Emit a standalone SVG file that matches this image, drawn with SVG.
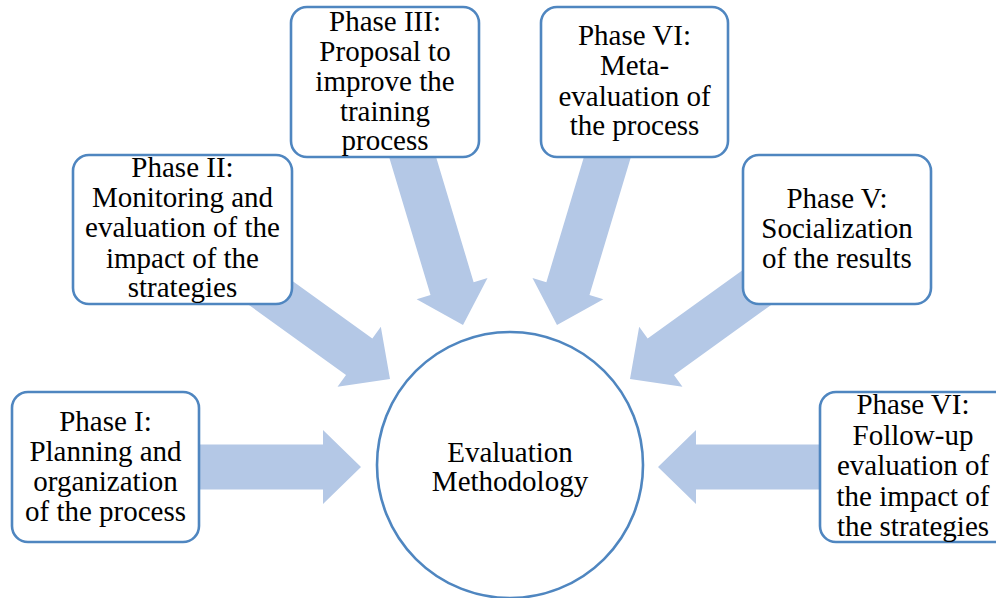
<svg xmlns="http://www.w3.org/2000/svg" width="996" height="598" viewBox="0 0 996 598">
<defs>
<style>
.box{fill:#fff;stroke:#4F86C0;stroke-width:2.6}
.arr{fill:#B4C8E6}
text{font-family:'Liberation Serif','DejaVu Serif',serif;font-size:29px;fill:#000;text-anchor:middle}
</style>
<polygon id="a175" points="-175,-22.5 -38,-22.5 -38,-37 0,0 -38,37 -38,22.5 -175,22.5"/>
<polygon id="a200" points="-200,-22.5 -38,-22.5 -38,-37 0,0 -38,37 -38,22.5 -200,22.5"/>
</defs>
<rect width="996" height="598" fill="#fff"/>
<g id="connectors" class="arr">
<use href="#a175" transform="translate(361,467)"/>
<use href="#a200" transform="translate(658,467) rotate(180)"/>
<use href="#a175" transform="translate(390,379) rotate(35.8)"/>
<use href="#a175" transform="translate(630,379) rotate(144.2)"/>
<use href="#a200" transform="translate(463,325) rotate(73.3)"/>
<use href="#a200" transform="translate(557,325) rotate(106.7)"/>
</g>
<g id="center">
<circle class="box" cx="510" cy="465" r="133"/>
<text x="510" y="462">Evaluation</text>
<text x="510" y="491">Methodology</text>
</g>
<g id="phase1">
<rect class="box" x="12" y="392" width="187" height="150" rx="16"/>
<text x="105.5" y="431">Phase I:</text>
<text x="105.5" y="461">Planning and</text>
<text x="105.5" y="491">organization</text>
<text x="105.5" y="521">of the process</text>
</g>
<g id="phase2">
<rect class="box" x="73" y="155" width="219" height="149" rx="16"/>
<text x="182.5" y="177">Phase II:</text>
<text x="182.5" y="207">Monitoring and</text>
<text x="182.5" y="237">evaluation of the</text>
<text x="182.5" y="268">impact of the</text>
<text x="182.5" y="297">strategies</text>
</g>
<g id="phase3">
<rect class="box" x="291" y="7" width="188" height="150" rx="16"/>
<text x="385" y="31">Phase III:</text>
<text x="385" y="61">Proposal to</text>
<text x="385" y="91">improve the</text>
<text x="385" y="121">training</text>
<text x="385" y="150">process</text>
</g>
<g id="phase6meta">
<rect class="box" x="541" y="7" width="187" height="150" rx="16"/>
<text x="634.5" y="45">Phase VI:</text>
<text x="634.5" y="75">Meta-</text>
<text x="634.5" y="106">evaluation of</text>
<text x="634.5" y="135">the process</text>
</g>
<g id="phase5">
<rect class="box" x="743" y="155" width="188" height="149" rx="16"/>
<text x="837" y="208">Phase V:</text>
<text x="837" y="238">Socialization</text>
<text x="837" y="268">of the results</text>
</g>
<g id="phase6follow">
<rect class="box" x="820" y="392" width="200" height="150" rx="16"/>
<text x="913" y="414">Phase VI:</text>
<text x="913" y="445">Follow-up</text>
<text x="913" y="475">evaluation of</text>
<text x="913" y="506">the impact of</text>
<text x="913" y="536">the strategies</text>
</g>
</svg>
